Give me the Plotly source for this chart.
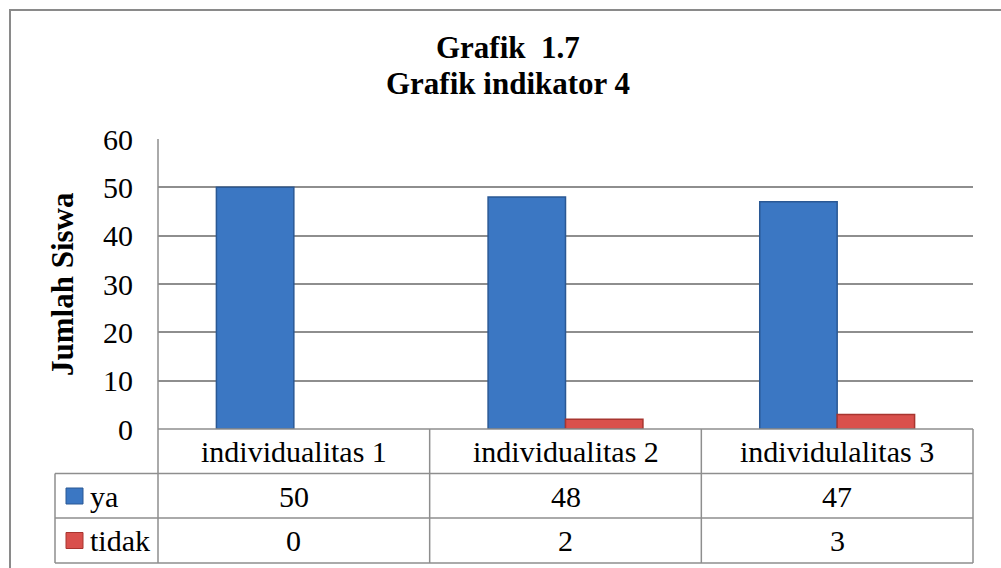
import plotly.graph_objects as go

categories = ["individualitas 1", "individualitas 2", "individulalitas 3"]
ya_values = [50, 48, 47]
tidak_values = [0, 2, 3]
series_names = ["ya", "tidak"]
y_ticks = [0, 10, 20, 30, 40, 50, 60]

W, H = 1001, 568
L, R, T, B = 158, 28, 139, 139
PW, PH = W - L - R, H - T - B

def px(x):
    return (x - L) / PW

def py(y):
    return (H - B - y) / PH

FONT = "Liberation Serif"
GRID = "#8e8e8e"
BLUE, BLUE_LINE = "#3b77c3", "#2a5894"
RED, RED_LINE = "#d9504c", "#a8352f"

fig = go.Figure()
fig.add_trace(go.Bar(x=categories, y=ya_values, name=series_names[0],
                     marker=dict(color=BLUE, line=dict(color=BLUE_LINE,
                                 width=[0 if v == 0 else 1.5 for v in ya_values]))))
fig.add_trace(go.Bar(x=categories, y=tidak_values, name=series_names[1],
                     marker=dict(color=RED, line=dict(color=RED_LINE,
                                 width=[0 if v == 0 else 1.5 for v in tidak_values]))))

fig.update_layout(
    width=W, height=H,
    margin=dict(l=L, r=R, t=T, b=B),
    paper_bgcolor="white", plot_bgcolor="white",
    barmode="group", bargap=0.43, bargroupgap=0,
    showlegend=False,
    font=dict(family=FONT, color="black"),
)
fig.update_xaxes(showticklabels=False, showgrid=False, zeroline=False, showline=False,
                 range=[-0.5, 2.5])
fig.update_yaxes(range=[0, 60], tickvals=y_ticks, showgrid=True, gridcolor=GRID, gridwidth=1.5,
                 zeroline=False, showline=False, ticks="", ticklabelstandoff=24,
                 tickfont=dict(size=30, family=FONT, color="black"))

shapes = []
line = dict(color=GRID, width=1.5)
shapes.append(dict(type="line", xref="paper", yref="paper", x0=0, x1=0, y0=1, y1=py(563), line=line))
shapes.append(dict(type="line", xref="paper", yref="paper", x0=0, x1=1, y0=py(429), y1=py(429), line=line))
for yy in [473.5, 518, 563]:
    shapes.append(dict(type="line", xref="paper", yref="paper", x0=px(55), x1=1, y0=py(yy), y1=py(yy), line=line))
shapes.append(dict(type="line", xref="paper", yref="paper", x0=px(55), x1=px(55), y0=py(473.5), y1=py(563), line=line))
for xx in [1/3, 2/3, 1]:
    shapes.append(dict(type="line", xref="paper", yref="paper", x0=xx, x1=xx, y0=py(429), y1=py(563), line=line))
shapes.append(dict(type="rect", xref="paper", yref="paper", x0=px(10), x1=px(1010), y0=py(10), y1=py(590),
                   line=dict(color="#8a8a8a", width=2), layer="below"))
for i, (c, lc) in enumerate([(BLUE, BLUE_LINE), (RED, RED_LINE)]):
    yc = 496 + i * 44.5
    shapes.append(dict(type="rect", xref="paper", yref="paper", x0=px(66), x1=px(83),
                       y0=py(yc - 8), y1=py(yc + 8), fillcolor=c, line=dict(color=lc, width=1)))

ann = []
ann.append(dict(text="<b>Grafik\u00a0 1.7</b>", xref="paper", yref="paper", x=px(508), y=py(47),
                showarrow=False, font=dict(size=31, family=FONT, color="black"), xanchor="center", yanchor="middle"))
ann.append(dict(text="<b>Grafik indikator 4</b>", xref="paper", yref="paper", x=px(508), y=py(83),
                showarrow=False, font=dict(size=31, family=FONT, color="black"), xanchor="center", yanchor="middle"))
ann.append(dict(text="<b>Jumlah Siswa</b>", xref="paper", yref="paper", x=px(62), y=py(284), textangle=-90,
                showarrow=False, font=dict(size=31, family=FONT, color="black"), xanchor="center", yanchor="middle"))
for c in categories:
    ann.append(dict(text=c, xref="x", yref="paper", x=c, y=py(451), showarrow=False,
                    font=dict(size=30, family=FONT, color="black"), xanchor="center", yanchor="middle"))
for i, (name, vals) in enumerate(zip(series_names, [ya_values, tidak_values])):
    yc = 496 + i * 44.5
    ann.append(dict(text=name, xref="paper", yref="paper", x=px(88), y=py(yc), showarrow=False,
                    font=dict(size=30, family=FONT, color="black"), xanchor="left", yanchor="middle"))
    for c, v in zip(categories, vals):
        ann.append(dict(text=str(v), xref="x", yref="paper", x=c, y=py(yc), showarrow=False,
                        font=dict(size=30, family=FONT, color="black"), xanchor="center", yanchor="middle"))

fig.update_layout(shapes=shapes, annotations=ann)
fig.write_html("out.html", config={"displayModeBar": False},
               post_script="document.body.style.margin='0';document.body.style.overflow='hidden';")
